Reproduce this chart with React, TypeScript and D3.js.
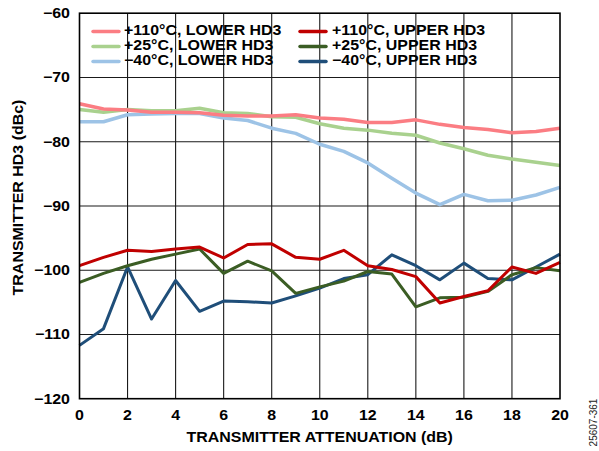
import React from "react";
import * as d3 from "d3";

const attenuation = d3.range(0, 21);
const lower110 = [-74.1, -74.9, -75.05, -75.4, -75.4, -75.5, -75.9, -76.0, -76.0, -75.8, -76.3, -76.5, -77.0, -77.0, -76.6, -77.3, -77.8, -78.1, -78.6, -78.4, -77.9];
const lower25 = [-75.0, -75.4, -75.0, -75.2, -75.2, -74.8, -75.5, -75.6, -76.1, -76.2, -77.2, -77.9, -78.2, -78.7, -79.0, -80.2, -81.1, -82.1, -82.7, -83.2, -83.7];
const lowerM40 = [-76.9, -76.9, -75.8, -75.7, -75.6, -75.6, -76.3, -76.7, -77.9, -78.7, -80.4, -81.5, -83.3, -85.7, -88.0, -89.8, -88.2, -89.2, -89.1, -88.3, -87.1];
const upper110 = [-99.3, -98.0, -96.9, -97.1, -96.7, -96.4, -98.1, -96.0, -95.9, -98.0, -98.3, -96.9, -99.3, -99.9, -101.0, -105.1, -104.1, -103.2, -99.5, -100.5, -98.8];
const upper25 = [-101.9, -100.5, -99.3, -98.3, -97.5, -96.7, -100.5, -98.6, -100.1, -103.6, -102.6, -101.7, -100.2, -100.6, -105.7, -104.3, -104.2, -103.3, -100.7, -99.6, -100.1];
const upperM40 = [-111.7, -109.1, -99.5, -107.6, -101.6, -106.4, -104.8, -104.9, -105.1, -104.0, -102.8, -101.3, -100.7, -97.6, -99.3, -101.5, -98.9, -101.3, -101.5, -99.5, -97.5];

const xTicks = d3.range(0, 21, 2);
const yTicks = d3.range(-120, -59, 10);

const seriesNames = [
  "+110°C, LOWER HD3",
  "+110°C, UPPER HD3",
  "+25°C, LOWER HD3",
  "+25°C, UPPER HD3",
  "\u221240°C, LOWER HD3",
  "\u221240°C, UPPER HD3",
];
const seriesValues = [lower110, upper110, lower25, upper25, lowerM40, upperM40];
const seriesColors = ["#fb7d83", "#c00000", "#a9d18e", "#3b5d24", "#9dc3e6", "#1f4e79"];
const seriesWidths = [3.5, 3, 3.5, 3, 3.5, 3];
const drawOrder = [4, 2, 0, 5, 3, 1];

const W = 599;
const H = 451;
const L = 79.5;
const R = 560;
const T = 13.2;
const B = 398.7;
const SX = 1.14;
const FONT = "'Liberation Sans', Arial, Helvetica, sans-serif";

export default function App() {
  const x = d3.scaleLinear().domain([0, 20]).range([L, R]);
  const y = d3.scaleLinear().domain([-120, -60]).range([B, T]);
  const line = (vals: number[]) =>
    d3
      .line<number>()
      .x((_, i) => x(attenuation[i]))
      .y((v) => y(v))(vals) || "";

  const txt = (
    key: string,
    s: string,
    tx: number,
    ty: number,
    anchor: string,
    rot = 0,
    size = 14,
    weight = "bold",
    sx = SX,
    fill = "#000"
  ) => (
    <text
      key={key}
      transform={`translate(${tx},${ty}) rotate(${rot}) scale(${sx},1)`}
      textAnchor={anchor}
      fontFamily={FONT}
      fontSize={size}
      fontWeight={weight}
      fill={fill}
    >
      {s}
    </text>
  );

  return (
    <svg
      width={W}
      height={H}
      style={{ position: "absolute", left: 0, top: 0, background: "#fff" }}
    >
      <rect x={0} y={0} width={W} height={H} fill="#fff" />
      {xTicks.slice(1, -1).map((t) => (
        <line key={"gx" + t} x1={x(t)} x2={x(t)} y1={T} y2={B} stroke="#1a1a1a" strokeWidth={1.1} />
      ))}
      {yTicks.slice(1, -1).map((t) => (
        <line key={"gy" + t} x1={L} x2={R} y1={y(t)} y2={y(t)} stroke="#1a1a1a" strokeWidth={1.1} />
      ))}
      {drawOrder.map((i) => (
        <path
          key={"s" + i}
          d={line(seriesValues[i])}
          fill="none"
          stroke={seriesColors[i]}
          strokeWidth={seriesWidths[i]}
          strokeLinejoin="round"
        />
      ))}
      <rect x={L} y={T} width={R - L} height={B - T} fill="none" stroke="#000" strokeWidth={1.6} />
      {xTicks.map((t) => txt("xt" + t, String(t), x(t), 420, "middle"))}
      {yTicks.map((t) =>
        txt("yt" + t, (t < 0 ? "\u2212" : "") + Math.abs(t), 70, y(t) + 5, "end")
      )}
      {txt("xtitle", "TRANSMITTER ATTENUATION (dB)", (L + R) / 2, 442, "middle")}
      {txt("ytitle", "TRANSMITTER HD3 (dBc)", 23, 197.5, "middle", -90)}
      {txt("code", "25607-361", 597, 422.5, "middle", -90, 10, "normal", 1, "#222")}
      {seriesNames.map((name, i) => {
        const col = i % 2;
        const row = Math.floor(i / 2);
        const lx = col === 0 ? 93 : 300;
        const tx = col === 0 ? 124 : 332;
        const base = 35 + row * 15;
        return (
          <g key={"lg" + i}>
            <line
              x1={lx}
              x2={lx + 26}
              y1={base - 3.5}
              y2={base - 3.5}
              stroke={seriesColors[i]}
              strokeWidth={3.5}
              strokeLinecap="round"
            />
            {txt("lt" + i, name, tx, base, "start")}
          </g>
        );
      })}
    </svg>
  );
}
